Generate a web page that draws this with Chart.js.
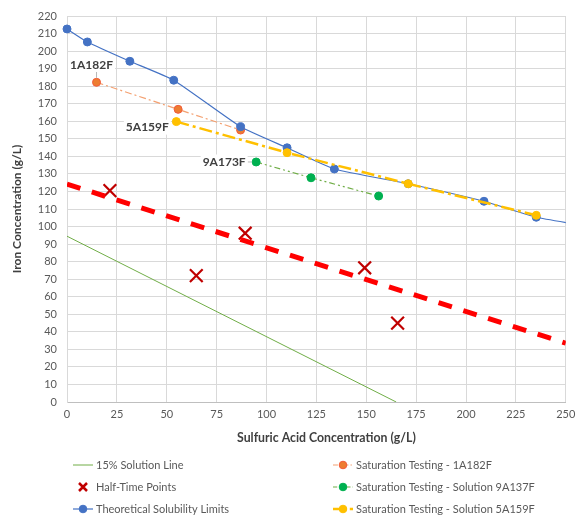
<!DOCTYPE html>
<html><head><meta charset="utf-8">
<script src="https://cdn.jsdelivr.net/npm/chart.js@4.4.1/dist/chart.umd.min.js"></script>
<style>html,body{margin:0;padding:0;background:#fff;}#wrap{width:577px;height:520px;position:relative;}</style>
</head><body><div id="wrap"><canvas id="c"></canvas></div>
<script>
// ---- axis ranges / ticks ----
const xAxisMin = 0, xAxisMax = 250, xAxisStep = 25;
const yAxisMin = 0, yAxisMax = 220, yAxisStep = 10;
const xAxisTitle = 'Sulfuric Acid Concentration (g/L)';
const yAxisTitle = 'Iron Concentration (g/L)';

// ---- series ----
const solution15X = [0, 165];
const solution15Y = [94.5, 0];

const halfTimeX = [21.5, 64.8, 89.3, 149.2, 165.7];
const halfTimeY = [120.5, 72, 96.2, 76.5, 45];

const halfTimeTrendX = [0, 250];
const halfTimeTrendY = [124.2, 33.5];

const theoreticalX = [0, 10.2, 31.5, 53.5, 87, 110.3, 134, 171, 209, 235.2, 265];
const theoreticalY = [212.6, 205.2, 194.2, 183.4, 156.9, 144.9, 132.8, 124.4, 114.4, 105.3, 99.5];

const sat1A182FX = [14.8, 55.7, 87];
const sat1A182FY = [182.2, 166.8, 155];

const sat9A137FX = [94.8, 122.3, 156.2];
const sat9A137FY = [136.8, 127.8, 117.4];

const sat5A159FX = [54.8, 110.3, 171, 235.2];
const sat5A159FY = [159.8, 142.1, 124.4, 106.4];

const seriesNames = ['15% Solution Line', 'Half-Time Points', 'Theoretical Solubility Limits',
  'Saturation Testing - 1A182F', 'Saturation Testing - Solution 9A137F', 'Saturation Testing - Solution 5A159F'];
const pointLabels = ['1A182F', '9A173F', '5A159F'];

const pts = (xs, ys) => xs.map((x, i) => ({x, y: ys[i]}));
const FONT = 'Lato, "Open Sans", sans-serif';

const datasets = [
  {label: seriesNames[0], data: pts(solution15X, solution15Y), showLine: true, borderColor: '#70AD47', borderWidth: 1, pointRadius: 0, order: 6},
  {label: seriesNames[1], data: pts(halfTimeX, halfTimeY), showLine: false, pointStyle: 'crossRot', pointRadius: 9, pointHoverRadius: 9, borderColor: '#C00000', backgroundColor: '#C00000', pointBorderWidth: 2.2, order: 1},
  {label: seriesNames[2], data: pts(theoreticalX, theoreticalY), showLine: true, borderColor: '#4472C4', backgroundColor: '#4472C4', borderWidth: 1.2, pointRadius: 4, pointBorderWidth: 1, tension: 0.15, clip: {left: 6, top: 6, right: 0, bottom: 0}, order: 3},
  {label: seriesNames[3], data: pts(sat1A182FX, sat1A182FY), showLine: true, borderColor: '#F4A070', backgroundColor: '#ED7D31', pointBorderColor: '#F25A3A', borderWidth: 1.2, borderDash: [7, 3, 2, 3], pointRadius: 4, pointBorderWidth: 1, order: 4},
  {label: seriesNames[4], data: pts(sat9A137FX, sat9A137FY), showLine: true, borderColor: '#70AD47', backgroundColor: '#00B050', pointBorderColor: '#00B050', borderWidth: 1.2, borderDash: [6, 3, 2, 3, 2, 3], pointRadius: 4, pointBorderWidth: 1, order: 5},
  {label: seriesNames[5], data: pts(sat5A159FX, sat5A159FY), showLine: true, borderColor: '#FFC000', backgroundColor: '#FFC000', pointBorderColor: '#FFC000', borderWidth: 2.5, borderDash: [13, 4, 3, 4], pointRadius: 4, pointBorderWidth: 1, order: 2},
  {label: 'Half-Time Trend', data: pts(halfTimeTrendX, halfTimeTrendY), showLine: true, borderColor: '#FF0000', borderWidth: 5, borderDash: [14, 12], pointRadius: 0, order: 0}
];

const labelDefs = [
  {ds: 3, text: pointLabels[0], dx: -5, dy: -18},
  {ds: 4, text: pointLabels[1], dx: -32, dy: 0},
  {ds: 5, text: pointLabels[2], dx: -29, dy: 5.5}
];

const labelPlugin = {
  id: 'pointLabels',
  afterDatasetsDraw(chart) {
    const ctx = chart.ctx;
    ctx.save();
    ctx.font = 'bold 12px ' + FONT;
    labelDefs.forEach(d => {
      const p = chart.getDatasetMeta(d.ds).data[0];
      const cx = p.x + d.dx, cy = p.y + d.dy;
      const w = ctx.measureText(d.text).width + 4, h = 15;
      const bx = cx - w / 2, by = cy - h / 2;
      const sx = Math.max(bx, Math.min(p.x, bx + w));
      const sy = Math.max(by, Math.min(p.y, by + h));
      const dist = Math.hypot(p.x - sx, p.y - sy);
      if (dist > 6) {
        const ex = p.x - (p.x - sx) * 4.5 / dist, ey = p.y - (p.y - sy) * 4.5 / dist;
        ctx.strokeStyle = '#A6A6A6'; ctx.lineWidth = 0.8; ctx.setLineDash([]);
        ctx.beginPath(); ctx.moveTo(sx, sy); ctx.lineTo(ex, ey); ctx.stroke();
      }
      ctx.fillStyle = '#fff';
      ctx.fillRect(bx, by, w, h);
      ctx.fillStyle = '#404040';
      ctx.textAlign = 'center'; ctx.textBaseline = 'middle';
      ctx.fillText(d.text, cx, cy + 0.5);
    });
    ctx.restore();
  }
};

const legendLayout = [
  {ds: 0, col: 0, row: 0}, {ds: 1, col: 0, row: 1}, {ds: 2, col: 0, row: 2},
  {ds: 3, col: 1, row: 0}, {ds: 4, col: 1, row: 1}, {ds: 5, col: 1, row: 2}
];
const legendPlugin = {
  id: 'twoColLegend',
  afterDraw(chart) {
    const ctx = chart.ctx;
    const colX = [73, 333], rowY = [465, 487, 509], sampleW = 20;
    ctx.save();
    // x-axis title (offset like the original layout)
    ctx.fillStyle = '#404040';
    ctx.font = 'bold 12.3px ' + FONT;
    ctx.textAlign = 'center'; ctx.textBaseline = 'middle';
    ctx.fillText(xAxisTitle, chart.chartArea.left + (chart.chartArea.right - chart.chartArea.left) / 2 + 10, 438.5);
    legendLayout.forEach(it => {
      const ds = chart.data.datasets[it.ds];
      const x = colX[it.col], y = rowY[it.row];
      const mx = x + sampleW / 2;
      if (ds.showLine) {
        ctx.strokeStyle = ds.borderColor; ctx.lineWidth = ds.borderWidth;
        ctx.setLineDash(ds.borderDash ? ds.borderDash.map(v => v * 0.7) : []);
        ctx.beginPath(); ctx.moveTo(x, y); ctx.lineTo(x + sampleW, y); ctx.stroke();
        ctx.setLineDash([]);
      }
      if (ds.pointStyle === 'crossRot') {
        ctx.strokeStyle = ds.borderColor; ctx.lineWidth = 2.5;
        const r = 4;
        ctx.beginPath(); ctx.moveTo(mx - r, y - r); ctx.lineTo(mx + r, y + r);
        ctx.moveTo(mx + r, y - r); ctx.lineTo(mx - r, y + r); ctx.stroke();
      } else if (ds.pointRadius > 0) {
        ctx.fillStyle = ds.backgroundColor; ctx.strokeStyle = ds.pointBorderColor || ds.borderColor; ctx.lineWidth = 1;
        ctx.beginPath(); ctx.arc(mx, y, 3.8, 0, Math.PI * 2); ctx.fill(); ctx.stroke();
      }
      ctx.fillStyle = '#595959';
      ctx.font = '11px ' + FONT;
      ctx.textAlign = 'left'; ctx.textBaseline = 'middle';
      ctx.fillText(ds.label, x + sampleW + 3, y + 0.5);
    });
    ctx.restore();
  }
};

new Chart(document.getElementById('c'), {
  type: 'scatter',
  data: {datasets},
  plugins: [labelPlugin, legendPlugin],
  options: {
    responsive: true, maintainAspectRatio: false, animation: false,
    layout: {padding: {left: 0, right: 9.5, top: 16, bottom: 69}},
    plugins: {legend: {display: false}, tooltip: {enabled: false}},
    scales: {
      x: {
        type: 'linear', min: xAxisMin, max: xAxisMax,
        ticks: {stepSize: xAxisStep, color: '#595959', font: {family: FONT, size: 11}, padding: 6},
        grid: {color: '#D9D9D9', drawTicks: false},
        border: {color: '#BFBFBF'},
        title: {display: false, text: xAxisTitle},
        afterFit(s) { s.height = 49; s.paddingLeft = 0; s.paddingRight = 0; }
      },
      y: {
        type: 'linear', min: yAxisMin, max: yAxisMax,
        ticks: {stepSize: yAxisStep, color: '#595959', font: {family: FONT, size: 11}, padding: 10},
        grid: {color: '#D9D9D9', drawTicks: false},
        border: {color: '#D9D9D9'},
        title: {display: true, text: yAxisTitle, color: '#404040', font: {family: FONT, size: 12, weight: 'bold'}, padding: {top: 10, bottom: 0}},
        afterFit(s) { s.width = 67; s.paddingTop = 0; s.paddingBottom = 0; }
      }
    }
  }
});
</script>
</body></html>
